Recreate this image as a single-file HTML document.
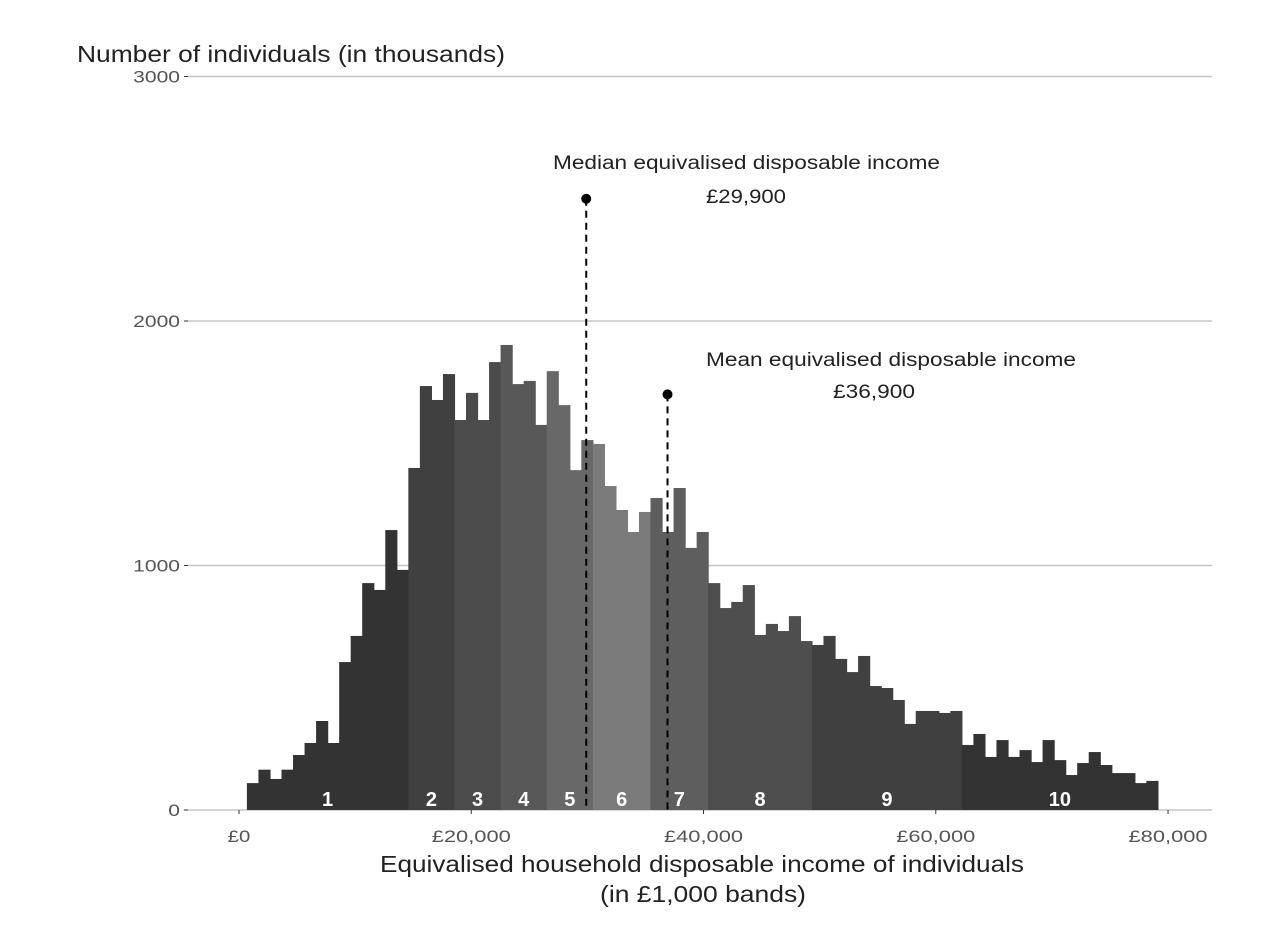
<!DOCTYPE html>
<html><head><meta charset="utf-8"><style>
html,body{margin:0;padding:0;background:#fff;}
svg{display:block;font-family:"Liberation Sans",sans-serif;}
</style></head><body>
<svg id="chart" width="1281" height="942" viewBox="0 0 1281 942">
<g id="grid"></g><g id="bars"></g><g id="axes"></g><g id="labels"></g><g id="annot"></g>
</svg>
<script>
// counts in thousands per £1,000 band
const counts = [110,165,127,165,225,274,364,274,605,712,928,900,1145,982,1399,1734,1677,1783,1595,1706,1595,1832,1902,1742,1755,1575,1795,1656,1390,1513,1497,1325,1227,1137,1219,1276,1137,1317,1072,1137,928,826,851,920,716,761,732,793,691,675,712,618,564,630,507,499,450,352,405,405,397,405,266,311,217,286,217,245,196,286,204,143,192,237,184,151,151,110,119];
const firstBandStart = 0.68; // £k
const bandWidth = 0.993; // £k
const decileStartBins = [0,14,18,22,26,30,35,40,49,62];
const decileLabels = ["1","2","3","4","5","6","7","8","9","10"];
const decileColors = ["#333333","#404040","#4b4b4b","#585858","#686868","#7b7b7b","#5e5e5e","#4e4e4e","#404040","#333333"];
const yTicks = [0,1000,2000,3000];
const xTicks = [0,20,40,60,80];
const xTickLabels = ["£0","£20,000","£40,000","£60,000","£80,000"];
const medianValue = 29.9, medianDotY = 2500;
const meanValue = 36.9, meanDotY = 1700;

const X = v => 239 + v*11.613;
const Y = v => 810 - v*0.2445;
const NS="http://www.w3.org/2000/svg";
function mk(tag, attrs, parent){const e=document.createElementNS(NS,tag);for(const k in attrs)e.setAttribute(k,attrs[k]);parent.appendChild(e);return e;}
const grid=document.getElementById('grid'),bars=document.getElementById('bars'),axes=document.getElementById('axes'),labels=document.getElementById('labels'),annot=document.getElementById('annot');

yTicks.forEach(t=>{
  if(t>0){const g=mk('line',{x1:188,x2:1212,y1:Y(t),y2:Y(t),stroke:'#c6c6c6','stroke-width':1.5},grid);
  
  }
  const tk=mk('line',{x1:184,x2:188,y1:Y(t),y2:Y(t),stroke:'#333','stroke-width':1},axes);
  
  
  const tx=mk('text',{x:180,y:Y(t)+6,'text-anchor':'end','font-size':17,fill:'#555',textLength:String(t).length*11.7,lengthAdjust:'spacingAndGlyphs'},axes);
  tx.textContent=t;
  
  
});
const base=mk('line',{x1:188,x2:1212,y1:810,y2:810,stroke:'#c6c6c6','stroke-width':1.5},grid);



function decileOf(i){let d=0;for(let k=0;k<decileStartBins.length;k++)if(i>=decileStartBins[k])d=k;return d;}
counts.forEach((c,i)=>{
  const x0=X(firstBandStart+i*bandWidth),x1=X(firstBandStart+(i+1)*bandWidth);
  const r=mk('rect',{x:x0,y:Y(c),width:x1-x0+0.6,height:Y(0)-Y(c),fill:decileColors[decileOf(i)]},bars);
  
  
});
decileStartBins.forEach((s,k)=>{
  const e=k<decileStartBins.length-1?decileStartBins[k+1]:counts.length;
  const cx=(X(firstBandStart+s*bandWidth)+X(firstBandStart+e*bandWidth))/2;
  const t=mk('text',{x:cx,y:806,'text-anchor':'middle','font-size':20,'font-weight':'bold',fill:'#fff'},labels);
  t.textContent=decileLabels[k];
  
  
});
xTicks.forEach((v,i)=>{
  const tk=mk('line',{x1:X(v),x2:X(v),y1:810,y2:814,stroke:'#333','stroke-width':1},axes);
  
  
  const t=mk('text',{x:X(v),y:842,'text-anchor':'middle','font-size':17,fill:'#555',textLength:xTickLabels[i].length*11.3,lengthAdjust:'spacingAndGlyphs'},axes);
  t.textContent=xTickLabels[i];
  
  
});
function marker(v,dy,name){
  const l=mk('line',{x1:X(v),x2:X(v),y1:Y(dy),y2:810,stroke:'#000','stroke-width':2,'stroke-dasharray':'7,5'},annot);
  
  
  const d=mk('circle',{cx:X(v),cy:Y(dy),r:5,fill:'#000'},annot);
  
  
}
marker(medianValue,medianDotY,'median');
marker(meanValue,meanDotY,'mean');
</script>
<svg style="position:absolute;left:0;top:0" width="1281" height="942">
<text x="77" y="62" textLength="428" lengthAdjust="spacingAndGlyphs" font-family="Liberation Sans, sans-serif" font-size="23" fill="#222">Number of individuals (in thousands)</text>
<text x="553" y="169" textLength="387" lengthAdjust="spacingAndGlyphs" font-family="Liberation Sans, sans-serif" font-size="19" fill="#222">Median equivalised disposable income</text>
<text x="706" y="203" textLength="80" lengthAdjust="spacingAndGlyphs" font-family="Liberation Sans, sans-serif" font-size="19" fill="#222">£29,900</text>
<text x="706" y="366" textLength="370" lengthAdjust="spacingAndGlyphs" font-family="Liberation Sans, sans-serif" font-size="19" fill="#222">Mean equivalised disposable income</text>
<text x="833" y="398" textLength="82" lengthAdjust="spacingAndGlyphs" font-family="Liberation Sans, sans-serif" font-size="19" fill="#222">£36,900</text>
<text x="380" y="872" textLength="644" lengthAdjust="spacingAndGlyphs" font-family="Liberation Sans, sans-serif" font-size="23" fill="#222">Equivalised household disposable income of individuals</text>
<text x="600" y="902" textLength="206" lengthAdjust="spacingAndGlyphs" font-family="Liberation Sans, sans-serif" font-size="23" fill="#222">(in £1,000 bands)</text>
</svg>
</body></html>
